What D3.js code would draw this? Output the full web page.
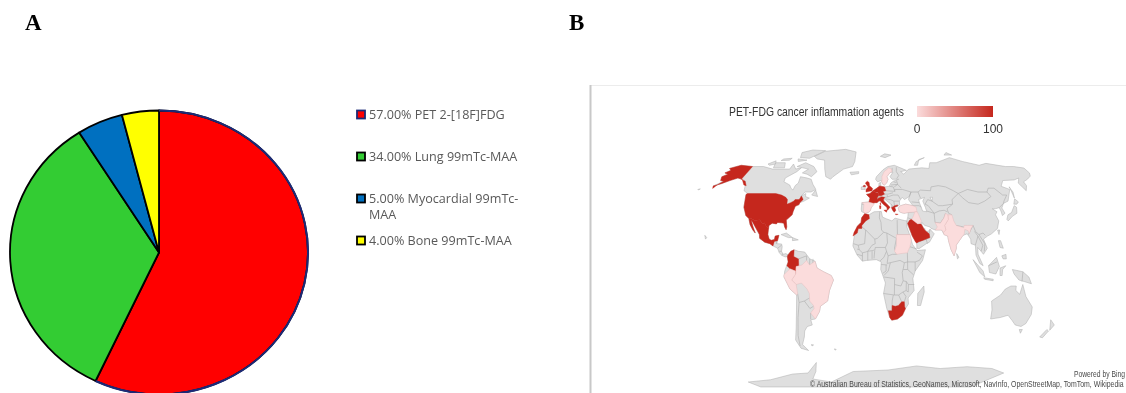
<!DOCTYPE html>
<html><head><meta charset="utf-8">
<script src="https://cdnjs.cloudflare.com/ajax/libs/d3/7.8.5/d3.min.js"></script>
<style>
html,body{margin:0;padding:0;background:#fff;overflow:hidden}
svg{display:block;filter:blur(0.5px)}
</style></head><body><svg id="c" width="1126" height="393"></svg>
<script>
// ---------- Panel A data ----------
const agentLabels = ["PET 2-[18F]FDG","Lung 99mTc-MAA","Myocardial 99mTc-MAA","Bone 99mTc-MAA"];
const agentShares = [57,34,5,4];
const legendLines = [["57.00% PET 2-[18F]FDG"],["34.00% Lung 99mTc-MAA"],["5.00% Myocardial 99mTc-","MAA"],["4.00% Bone 99mTc-MAA"]];
const sliceColors = ["#ff0000","#33cc33","#0070c0","#ffff00"];
// ---------- Panel B data ----------
const mapTitle = "PET-FDG cancer inflammation agents";
const scaleTicks = [0,100];
const countryNames = ["USA","Alaska","Mexico","Colombia","UK","N. Ireland","France","Benelux","Corsica","Germany","Italy","Sicily","Sardinia","Greece","Crete","Morocco","Saudi Arabia","South Africa",
  "Spain","Sweden","Turkey","Iraq","Sudan","India","Pakistan","Brazil","Peru"];
const countryValues = [100,100,100,100,100,100,100,100,100,100,100,100,100,100,100,100,100,100, 0,0,0,0,0,0,0,0,0];
const countryRings = {
 "USA":[[-124.5,48.4],[-123,49],[-95,49],[-89,48],[-84.5,46.5],[-82.5,45],[-82.5,42],[-79,43],[-76,44],[-75,45],[-71,45],[-69,47.3],[-67,45],[-70,43],[-70.5,41.7],[-74,40.6],[-75.5,37],[-76,35],[-81,31.5],[-80,27],[-80.5,25.2],[-82,27],[-83,29.5],[-85,29.7],[-89,30],[-90,29],[-94,29.5],[-97,28],[-97.2,26],[-99.5,27.5],[-101.5,29.8],[-103,29],[-106.5,31.8],[-111,31.3],[-114.7,32.5],[-117,32.5],[-120.5,34.5],[-124,40]],
 "Alaska":[[-156,71],[-141,70],[-141,60],[-135,58.5],[-130,55],[-133,55.5],[-140,60],[-146,61],[-152,59],[-158,56.5],[-164,54.7],[-162,52.8],[-161,55.5],[-158,58.5],[-162,59],[-165,62],[-161,64],[-166,65],[-162,67],[-166,68.5]],
 "Mexico":[[-117,32.5],[-114.7,32.5],[-111,31.3],[-106.5,31.8],[-103,29],[-101.5,29.8],[-99.5,27.5],[-97.2,26],[-97.5,22],[-96,19],[-94,18.2],[-91,18.7],[-90.5,21],[-87,21.5],[-88,18],[-91,17.5],[-92,14.5],[-95,16],[-100,17],[-105,19.5],[-105.5,22],[-109,26],[-112.5,30],[-114.7,31.7],[-112,27],[-109.5,23],[-112,25],[-115,28.5]],
 "Colombia":[[-77.5,8.6],[-75,11],[-72,12],[-72,7.5],[-67.5,6],[-67,1.5],[-69.5,1],[-70,-4],[-70,-2],[-75,-0.5],[-78,1.5],[-77,4],[-78,7.5]],
 "UK":[[-5,50],[1,51],[1.7,52.7],[-1.5,55],[-2,57.5],[-4,58.5],[-6,57],[-3,54],[-5,52]],
 "N. Ireland":[[-8,54.2],[-5.5,54.3],[-6.3,55.3],[-8,55]],
 "France":[[-4.5,48.4],[-1,49],[2,51],[4,50],[8,49],[7.5,47.5],[6,46],[7.5,44],[6,43],[3,43],[3,42.5],[-2,43.3],[-1,46]],
 "Benelux":[[2,51],[4,52],[7,53.5],[6,50],[4,50]],
 "Corsica":[[8.7,42.5],[9.5,43],[9.4,41.4]],
 "Germany":[[6,51],[7,53.5],[9,54.8],[14,54],[15,51],[12,50.3],[13.5,48.6],[10,47.5],[7.5,47.5],[8,49],[6,50]],
 "Italy":[[7,44],[6.8,45.8],[10.5,46.8],[13.7,46.5],[12.3,45],[12.5,44],[18.5,40],[16,38],[15.5,40],[12,42],[9,44.3]],
 "Sicily":[[12.5,38],[15.5,38.2],[15,36.7]],
 "Sardinia":[[8.3,41],[9.7,41],[9.5,39],[8.5,39]],
 "Greece":[[20,39.7],[23,41],[26,41.5],[26,40.8],[23,40],[24,38],[22.5,36.7],[21,38]],
 "Crete":[[23.5,35.6],[26.2,35.3],[24,35]],
 "Morocco":[[-6,35.8],[-2,35],[-1.5,32.5],[-5,31],[-8.7,28],[-8.7,26],[-12,26],[-13,23],[-17,21],[-16,23.5],[-13,27.5],[-9.5,30],[-9,33]],
 "Saudi Arabia":[[34.8,29.3],[37,31.5],[39,32],[44.5,29],[47.5,29],[48.5,28],[50,26],[51.5,24.5],[55,22.5],[55.5,20],[52,19],[48,18],[45,17.3],[43,16.5],[42,17],[39,21],[37,25]],
 "South Africa":[[16.5,-28.5],[20,-28.5],[20,-25],[23,-25.5],[26,-25],[29,-22.5],[31.5,-22.5],[32,-26],[32.8,-27],[30,-31.5],[25.5,-34],[20,-34.8],[18,-33],[17,-30]],
 "Spain":[[-9,43],[-2,43.3],[3,42.5],[3,41.8],[0,39.5],[-0.5,38],[-2,36.8],[-5.5,36],[-7.4,37.2],[-7,42]],
 "Sweden":[[11,59],[12.5,56],[14,55.5],[16.5,57],[18.5,60],[17.5,62],[22,65.5],[24,65.8],[24,68],[21,69],[15,66],[12,62],[12,59]],
 "Turkey":[[26.5,39.5],[29,41],[34,42],[41,41],[44,40],[44.5,37],[36,36.5],[32,36],[30,36.3],[27.5,37]],
 "Iraq":[[39,32],[41,34.5],[42.5,37],[44.8,37],[46,35],[48,31],[47.5,29.5],[44.5,29]],
 "Sudan":[[24,20],[24,22],[37,22],[38,18],[36.5,14],[34,10],[28,9.5],[24,9],[22,11],[24,15]],
 "India":[[68.5,23.5],[71,25],[70,28],[74,32],[74,35],[78,35],[79,31],[81,28],[88,26.5],[88.5,28],[92,28],[97,28],[95,26],[93,22.5],[92,24.5],[89,25.5],[88,22],[87,21.5],[80,15],[80,13],[77.5,8],[75,12],[73,18],[72.5,21],[69,22]],
 "Pakistan":[[61,25],[67,25],[68.5,23.5],[71,25],[70,28],[74,32],[74,35],[72,36],[70,33],[66,29.5],[61,30],[63,27]],
 "Brazil":[[-60,5],[-57,2],[-52,4.5],[-50,0],[-44,-2.5],[-37,-5],[-35,-8],[-39,-15],[-41,-22],[-48,-25.5],[-49,-29],[-53.5,-34],[-57.5,-30],[-54,-27],[-54.5,-25],[-58,-22],[-58,-17],[-60,-14],[-65,-10],[-70,-11],[-74,-8],[-70,-4],[-69.5,1],[-64,2]],
 "Peru":[[-81,-4.5],[-78,-2.5],[-75,-0.5],[-70,-2],[-70,-4],[-74,-8],[-70,-11],[-69,-17],[-70,-18],[-76,-14],[-81,-6]]
};
const landRings = [
 [[-156,71],[-141,70],[-128,70],[-115,68],[-108,68],[-95,68],[-94,72],[-88,68],[-82,69],[-85,66],[-94,61],[-93,58],[-85,55.5],[-82,53],[-79,51.5],[-79,55],[-77,57],[-78,62],[-70,61],[-65,60],[-61,56],[-56,52],[-60,50],[-66,50],[-70,47],[-65,49],[-65,47],[-61,46],[-66,44],[-70,43],[-70.5,41.7],[-74,40.6],[-75.5,37],[-76,35],[-81,31.5],[-80,27],[-80.5,25.2],[-82,27],[-83,29.5],[-85,29.7],[-89,30],[-90,29],[-94,29.5],[-97,28],[-97.5,25],[-97.5,22],[-96,19],[-94,18.2],[-91,18.7],[-90.5,21],[-87,21.5],[-88,18],[-88.5,16],[-84,15.8],[-83.3,14],[-83.7,11],[-82,9],[-79.5,9.5],[-77.5,8.6],[-78,7.5],[-80,7.3],[-83,8.2],[-85.8,10],[-87.5,13],[-92,14.5],[-95,16],[-100,17],[-105,19.5],[-105.5,22],[-109,26],[-112.5,30],[-114.7,31.7],[-112,27],[-109.5,23],[-112,25],[-115,28.5],[-117,32.5],[-120.5,34.5],[-124,40],[-124.5,48.4],[-123,49],[-128,51],[-131,55],[-135,58.5],[-140,60],[-146,61],[-152,59],[-158,56.5],[-164,54.7],[-158,58.5],[-162,59],[-165,62],[-161,64],[-166,65],[-162,67],[-166,68.5]],
 [[-73,78],[-62,82],[-35,83.5],[-20,81.5],[-20,74],[-22,70],[-32,68],[-42,62],[-44,60],[-50,62],[-54,68],[-58,75],[-68,76]],
 [[-24,65.5],[-14,66],[-14,64.5],[-22,63.5]],
 [[-59,48],[-56,51.5],[-53,47]],
 [[-80,73],[-68,70],[-62,66],[-66,62],[-72,64],[-78,65],[-73,68],[-88,70]],
 [[-117,73],[-105,73],[-102,69],[-115,69]],
 [[-125,72],[-118,74.5],[-116,72],[-122,71]],
 [[-90,77],[-78,76.5],[-62,82.5],[-80,83],[-92,81]],
 [[-92,76],[-80,75],[-90,74]],
 [[-110,76],[-100,76.5],[-102,75],[-112,74.7]],
 [[-85,22],[-80,23],[-74,20],[-78,20]],
 [[-74,20],[-68.5,18.5],[-74,18]],
 [[-157,21.5],[-155,20],[-156,19]],
 [[-176,52],[-174,52.4],[-175,51.6]],
 [[-77.5,8.6],[-75,11],[-72,12],[-68,11],[-62,10.5],[-57,6],[-52,4.5],[-50,0],[-44,-2.5],[-37,-5],[-35,-8],[-39,-15],[-41,-22],[-48,-25.5],[-49,-29],[-53.5,-34],[-58,-34.5],[-57,-38],[-62,-39],[-65,-42],[-66,-46],[-69,-51],[-65,-55],[-72,-53.5],[-75,-48],[-73,-40],[-71,-30],[-70,-18],[-76,-14],[-81,-6],[-80,-2],[-78,2],[-77,4],[-78,7.5]],
 [[-6,35.8],[-2,35],[3,37],[10,37.2],[11,33.5],[15,32.3],[20,31],[23,32.8],[32,31.2],[34.2,31],[34,27],[37,21],[39,15.5],[43,11.5],[51,12],[48,5],[41,-2],[39,-7],[40.5,-15],[35,-20],[35.5,-24],[32.8,-27],[30,-31.5],[25.5,-34],[20,-34.8],[18,-33],[15,-27],[11.8,-17],[13.5,-10],[9,-1],[9.5,4],[5,5.5],[-4,5],[-8,4.5],[-13,8.5],[-17,14.5],[-16,20],[-13,27.5],[-9.5,30],[-9,33]],
 [[-9,37],[-9.5,38.7],[-9,43],[-2,43.5],[-1,46],[-4.5,48.4],[-1,49],[2,51],[4,52],[8,54],[8.5,57],[10.5,57.5],[10,54.5],[14,54],[19,54.5],[21,57],[24,58.5],[30,60],[23,60],[21,62],[25,65.5],[22,65.5],[17.5,62],[18.5,60],[16.5,57],[14,55.5],[12.5,56],[11,59],[7,58],[5,60],[6,62],[14,67.5],[20,70],[28,71],[41,67],[34,66],[37,64],[44,68],[60,69],[68,68.5],[72,73],[80,73],[100,77],[113,74],[130,71],[140,72.5],[160,70],[170,70],[180,68.8],[180,65],[177,62.5],[170,60],[163,58],[162,55],[156.5,51],[156,57],[162,61],[155,59.5],[142,59],[135,54.5],[141,52],[135,44],[130,42.5],[127.5,39.5],[129.5,36],[126.5,34.5],[126,37.5],[125,39.7],[121,39],[118,39],[122,37],[120,35],[122,31],[120,26],[114,22.5],[110,21],[106,19],[109,13],[105,9],[103,11],[100,13.5],[100,9],[104,1.5],[101,3],[98,8.5],[98,15],[94,16],[94,19],[91,22.5],[87,21.5],[80,15],[80,13],[77.5,8],[75,12],[73,18],[72.5,21],[69,22],[67,25],[61,25],[57,26],[56,27],[51,28],[48.5,30],[48.5,28],[50,26],[51.2,26],[51.5,24.5],[54,24],[56,25.5],[59.8,22.5],[55,17],[52,16],[45,12.7],[43,13],[43,16.5],[39,21],[35,28],[34.8,29.5],[34.2,31],[35.5,34],[36,36.5],[32,36],[30,36.3],[27.5,37],[26.5,39.5],[29,41],[34,42],[41,41],[37,45],[38,47],[33,45],[31,46.5],[28,44],[28,41.5],[26,40.5],[23,40],[24,38],[22.5,36.7],[20,39.7],[19.5,42],[14,45],[12.5,44.5],[18.5,40],[16,38],[15.5,40],[12,42],[9,44.3],[6,43],[3,43],[0,39.5],[-0.5,38],[-2,36.8],[-5.5,36]],
 [[-10,52],[-6,52],[-6,55],[-10,54]],
 [[12,78],[18,80],[26,79],[18,77]],
 [[52,71],[56,74],[68,77],[60,75.5],[56,71]],
 [[95,79],[105,79],[100,81]],
 [[49.5,-12],[50,-16],[47,-25],[44,-25],[44,-17]],
 [[114,-22],[122,-18],[126,-14],[131,-12],[136,-12],[136,-15],[140,-17.5],[142,-11],[146,-19],[153,-26],[153,-31],[150,-37],[146,-39],[140,-38],[136,-35],[131,-31.5],[124,-33],[115,-34],[115,-28]],
 [[145,-41],[148,-41],[147,-43.5]],
 [[173,-34.5],[178,-38],[175,-41.5]],
 [[172,-41],[174,-42],[170,-46.5],[167,-46]],
 [[130,32],[132,35],[136,36.5],[140,41],[142,40],[141,36],[136,34],[131,31]],
 [[140,42],[142,45.5],[145,43.5],[143,42]],
 [[142,46],[143,54],[142.5,54],[142,50]],
 [[120,25],[122,25],[121,22]],
 [[120,18],[122,18],[124,13],[121,13.5]],
 [[122,8],[126,9],[126,6],[123,6]],
 [[95,5.5],[104,-2],[106,-6],[101,-3]],
 [[105,-6.5],[114,-7.5],[114,-8.5],[106,-7.5]],
 [[109,1.5],[117,7],[119,1],[116,-4],[110,-3]],
 [[119.5,0],[125,1.5],[122,-1],[122,-5],[120,-5]],
 [[131,-1],[141,-2.5],[147,-6],[150,-10.5],[143,-9],[138,-8],[133,-4]],
 [[80,9.5],[82,7],[80.5,6]],
 [[-60,-51],[-58,-51.3],[-60,-52]],
 [[-38,-54],[-36,-54.2],[-37,-54.8]],
 [[-155,-76],[-125,-74.5],[-94,-70.7],[-75,-70],[-61,-63],[-65,-69],[-72,-74],[-50,-76],[-21,-69],[20,-68],[52,-65.3],[80,-67],[110,-65.8],[140,-67],[158,-70],[130,-79.3],[-144,-79.3]]
];
const waterRings = [
 [[47,45],[53,46.5],[51,44],[53,40],[54,37],[50,37.5],[49,40],[47.5,43]],
 [[58.5,46.5],[61,46.5],[60,44]]
];
const borderLines = [
 [[8.5,37],[8,33],[9.5,30],[10,25],[12,23.5]],[[12,23.5],[6,19.5],[3.5,19],[4,16]],[[-8.7,27],[-5,25],[3.5,19]],[[-5,25],[-6,16],[-12,15],[-16.5,16]],[[-12,26],[-8.7,27]],
 [[25,31.5],[25,20]],[[12,23.5],[15,23],[24,19.5]],[[15,23],[15.5,16.5],[13.5,13.5]],[[24,19.5],[22,13],[24,9]],[[25,22],[37,22]],
 [[2.8,6.3],[3.5,11.5],[4,13.5],[13.5,13.5],[14.5,11],[12,7],[8.5,4.7]],[[-12,15],[-11,12],[-8,10],[-5,10.5],[-3,11],[1,15],[4,16]],[[-3,11],[2,11.5],[3,12]],[[-8,10],[-8,4.5]],[[-3,11],[-3,5]],[[1,11],[1,6]],[[-13,12.5],[-11,12]],[[-8,8],[-13,9]],
 [[14.5,11],[16,8],[20,9],[24,9]],[[16,8],[15,3],[18,3.5],[27,5],[31,3.5]],[[9.5,2.3],[15,2]],[[14,2],[14,-2],[11,-3.5]],[[18,3.5],[16,-2],[12,-5]],[[12,-6],[22,-7],[22,-11],[28,-12],[30,-8.5],[29,-3],[30,0],[31,3.5]],
 [[11.8,-17],[22,-18],[22,-11]],[[20,-28.5],[20,-22],[21,-18]],[[22,-18],[26,-18],[30,-16],[33,-15],[33,-9],[30,-8.5]],[[26,-18],[29,-22.5]],[[31.5,-22.5],[33,-19],[30,-16]],[[35,-11],[40.5,-11]],[[33,-9],[35,-11],[35,-16],[33,-15]],
 [[30,-1],[34,-1],[39.5,-4.5]],[[34,-1],[34,4],[41,4],[41,-2]],[[31,3.5],[34,4]],[[41,4],[45,5],[48,8],[43,10.5]],[[34,10],[34,4]],[[36.5,14],[43,12.5]],
 [[-60,8],[-60,5]],[[-57,6],[-57,2]],[[-54,6],[-54,2.5]],[[-67.5,6],[-60,8]],[[-69,-17],[-68,-23],[-63,-22],[-58,-20]],[[-68,-23],[-70,-33],[-72,-45],[-72,-52]],[[-63,-22],[-58,-27],[-54.5,-25.5]],[[-58,-34],[-57.5,-30]],
 [[-89,17.8],[-89,15.8]],[[-87.5,13],[-84,15]],[[-85.8,11],[-83.7,11]],[[-83,8.2],[-82.5,9.5]],
 [[15,51],[24,50.5],[23,54],[19,54.5]],[[13.5,48.6],[17,48.6],[22,49.5]],[[16,48],[16.5,46.8],[13.7,46.5]],[[24,50.5],[24,52],[32,52],[40,50],[38,47]],[[22,48],[27,48],[29,45.3]],[[22.5,44],[28,44]],[[22.5,44],[23,41]],[[16.5,46.8],[22,48]],[[14,45.5],[19,45],[22.5,44]],[[19.5,42],[21,41],[20,39.7]],[[28,56],[21,55.5]],[[27,57.5],[24,58]],[[24,54],[28,56],[31,53]],[[28,56],[27.5,59]],[[30,69.5],[29,66],[31,63],[28,60.5]],[[25,69],[24,65.8]],
 [[6,46],[10,47]],[[-9,42],[-7,42]],
 [[47,50],[50,51.5],[60,51],[62,54],[70,55],[77,54],[83,51],[87,49]],[[87,49],[80,45],[80,42],[70,41],[66,41],[60,44],[56,45],[53,42]],[[87,49],[98,52],[107,50],[116,50],[119,47],[112,44],[105,42],[96,43],[91,46],[87,49]],[[47,50],[49,46]],[[38,47],[40,50],[47,50]],
 [[116,50],[120,53],[126,53],[131,48],[135,48],[131,44],[130,42.5]],[[80,42],[74,39],[75,36],[78,35]],[[97,28],[99,24],[102,22],[106,23],[108,21.5]],[[53,42],[56,41],[61,36],[54,37.5]],[[61,36],[66,37.5],[71,38],[74,37]],[[61,36],[61,30],[66,29.5],[70,33],[72,36]],
 [[92,22],[97,28]],[[98,24],[101,21],[98,15]],[[101,21],[105,15],[103,11]],[[102,22],[107,16],[106,11]],[[125,39.7],[130,42.5]],[[81,28],[88,27]],[[41,41],[47,41],[49,40]],[[40,43.5],[47.5,43]],
 [[36,36.5],[42,37]],[[35.5,33],[39,32]],[[43,16.5],[48,18],[52,19],[55.5,20],[55,22.5],[56,25.5]],[[52,19],[53,16]],[[141,-2.5],[141,-9]],[[109,1.5],[117,4]]
];
// ---------- Drawing ----------
const svg = d3.select("#c");

// Panel letters
svg.selectAll("text.letter").data([["A",25,30],["B",569,30]]).join("text")
  .attr("x",d=>d[1]).attr("y",d=>d[2]).text(d=>d[0])
  .attr("font-family","'Liberation Serif',serif").attr("font-weight",700).attr("font-size",23).attr("fill","#000");

// Pie (the source was stretched slightly horizontally)
const RX=149, RY=142, R=100;
const pieG = svg.append("g").attr("transform",`translate(159,252.5) scale(${RX/R},${RY/R})`);
const arcs = d3.pie().sort(null)(agentShares);
const arc = d3.arc().innerRadius(0).outerRadius(R);
pieG.selectAll("path.s").data(arcs).join("path").attr("class","s").attr("d",arc)
  .attr("fill",(d,i)=>sliceColors[i]).attr("stroke","#000").attr("stroke-width",1.8)
  .attr("vector-effect","non-scaling-stroke").attr("stroke-linejoin","round");
pieG.append("path").attr("d",d3.arc().innerRadius(R).outerRadius(R)(arcs[0]))
  .attr("fill","none").attr("stroke","#1c2a78").attr("stroke-width",2).attr("vector-effect","non-scaling-stroke");

// Pie legend
const rowBase=[119,161,203,245], lineGap=16;
const lg = svg.append("g");
legendLines.forEach((lines,i)=>{
  lg.append("rect").attr("x",357).attr("y",rowBase[i]-8.5).attr("width",8).attr("height",8)
    .attr("fill",sliceColors[i]).attr("stroke",i===0?"#1c2a78":"#000").attr("stroke-width",1.8);
  lines.forEach((t,k)=>lg.append("text").attr("x",369).attr("y",rowBase[i]+k*lineGap).text(t)
    .attr("font-family","'Open Sans',sans-serif").attr("font-size",12.6).attr("fill","#595959"));
});

// Panel B frame
svg.append("rect").attr("x",590).attr("y",85).attr("width",536).attr("height",1).attr("fill","#ececec");
svg.append("rect").attr("x",589.5).attr("y",85).attr("width",2).attr("height",308).attr("fill","#c8c8c8");

// Map projection: pseudo-cylindrical stretched vertically
const widthAtLat = d3.scaleLinear().domain([0,30,50,65,80,90]).range([1.08,1.05,1.0,.88,.76,.65]);
const yOfLat = d3.scaleLinear().domain([-90,0,50,83]).range([403,268,192,150]);
const project = d3.geoTransform({point(lon,lat){
  this.stream.point(871+lon*widthAtLat(Math.abs(lat)), yOfLat(lat));
}});
const path = d3.geoPath(project);
const poly = r => ({type:"Polygon",coordinates:[[...r,r[0]]]});
const color = d3.scaleLinear().domain(scaleTicks).range(["#fbdcdc","#c5271d"]);
const GREY="#adadad";
const defs = svg.append("defs");
defs.append("clipPath").attr("id","mapclip").append("rect").attr("x",600).attr("y",90).attr("width",526).attr("height",298);
const mapG = svg.append("g").attr("clip-path","url(#mapclip)");
mapG.selectAll("path.land").data(landRings).join("path").attr("d",d=>path(poly(d)))
  .attr("fill","#dfdfdf").attr("stroke",GREY).attr("stroke-width",.5);
mapG.selectAll("path.water").data(waterRings).join("path").attr("d",d=>path(poly(d)))
  .attr("fill","#fff").attr("stroke",GREY).attr("stroke-width",.5);
mapG.selectAll("path.border").data(borderLines).join("path")
  .attr("d",d=>path({type:"LineString",coordinates:d}))
  .attr("fill","none").attr("stroke",GREY).attr("stroke-width",.6);
mapG.selectAll("path.country").data(countryNames).join("path")
  .attr("d",n=>path(poly(countryRings[n])))
  .attr("fill",(n,i)=>color(countryValues[i])).attr("stroke",(n,i)=>countryValues[i]?"#c5271d":"#e3b9b9").attr("stroke-width",.4);

// Colour scale legend
const grad = defs.append("linearGradient").attr("id","g");
grad.selectAll("stop").data(scaleTicks).join("stop").attr("offset",d=>d+"%").attr("stop-color",d=>color(d));
const barX = d3.scaleLinear().domain(scaleTicks).range([917,993]);
svg.append("rect").attr("x",barX(0)).attr("y",106).attr("width",barX(100)-barX(0)).attr("height",11).attr("fill","url(#g)");
svg.selectAll("text.tick").data(scaleTicks).join("text").attr("class","tick")
  .attr("x",d=>barX(d)).attr("y",133).attr("text-anchor","middle").text(d=>d)
  .attr("font-family","'Liberation Sans',sans-serif").attr("font-size",12).attr("fill","#333");
// Narrowed texts: squeezed horizontally to the measured width
function squeezed(x,y,txt,size,w,fill){
  const t = svg.append("text").text(txt).attr("font-family","'Liberation Sans',sans-serif").attr("font-size",size).attr("fill",fill);
  const k = w/t.node().getComputedTextLength();
  t.attr("transform",`translate(${x},${y}) scale(${k},1)`);
}
squeezed(729,116,mapTitle,12.5,175,"#333");
squeezed(1074,377,"Powered by Bing",8.8,51,"#4a4a4a");
squeezed(810,387,"© Australian Bureau of Statistics, GeoNames, Microsoft, NavInfo, OpenStreetMap, TomTom, Wikipedia",8.8,314,"#4a4a4a");
</script></body></html>
